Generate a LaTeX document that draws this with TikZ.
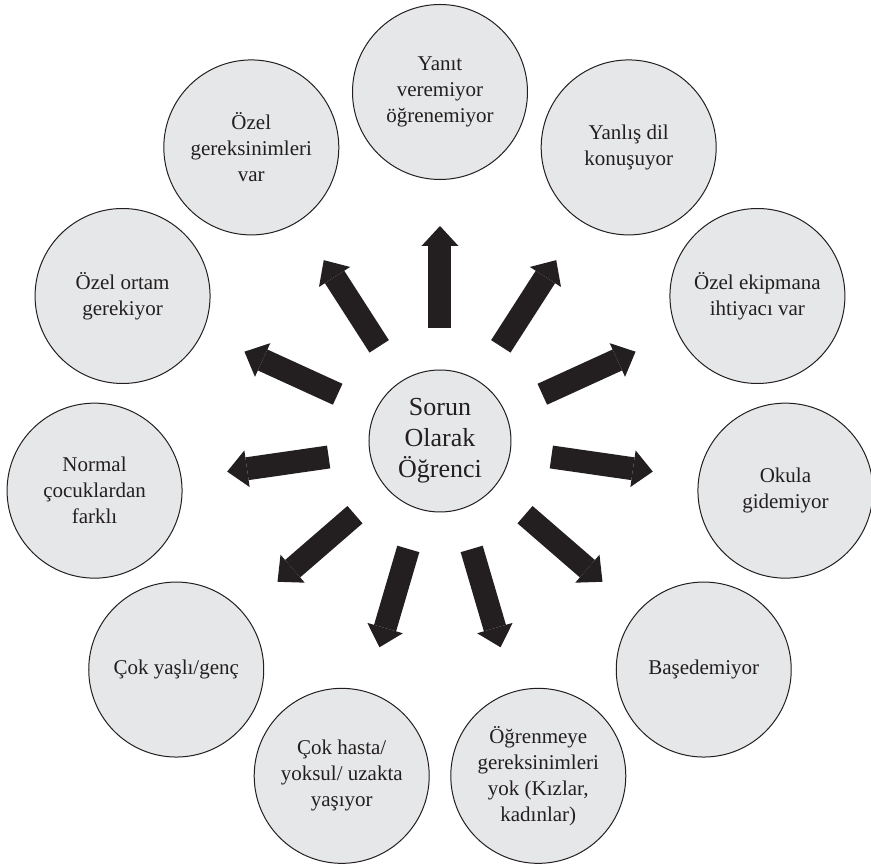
\documentclass[tikz,border=0pt]{standalone}
\usepackage{fontspec}
\setmainfont{Liberation Serif}
\usepackage{tikz}
\usetikzlibrary{arrows.meta}
\definecolor{bubble}{HTML}{E6E7E8}
\definecolor{ink}{HTML}{231F20}

\begin{document}
\begin{tikzpicture}[x=1pt,y=1pt,
    reason/.style={circle,draw=ink,line width=1pt,fill=bubble,minimum size=175pt,
      inner sep=0pt,align=center,text=ink,font=\fontsize{21}{26}\selectfont},
    core/.style={circle,draw=ink,line width=1pt,fill=bubble,minimum size=142pt,
      inner sep=0pt,align=center,text=ink,font=\fontsize{26}{31}\selectfont},
    push/.style={draw=ink,line width=23pt,
      -{Triangle[width=37pt,length=20pt,line width=0pt]},
      shorten <=41pt,shorten >=46pt}]
      \useasboundingbox (-440,-423) rectangle (431,441);
      \node [core] (st) at (0,0) {Sorun\\Olarak\\Öğrenci};
      \node [reason] (s0) at (90:349pt) {Yanıt\\veremiyor\\öğrenemiyor};
      \node [reason] (s1) at (57.27:349pt) {Yanlış dil\\konuşuyor};
      \node [reason] (s2) at (24.55:349pt) {Özel ekipmana\\ihtiyacı var};
      \node [reason] (s3) at (-8.18:349pt) {Okula\\gidemiyor};
      \node [reason] (s4) at (-40.91:349pt) {Başedemiyor};
      \node [reason] (s5) at (-73.64:349pt) {Öğrenmeye\\gereksinimleri\\yok (Kızlar,\\kadınlar)};
      \node [reason] (s6) at (-106.36:349pt) {Çok hasta/\\yoksul/ uzakta\\yaşıyor};
      \node [reason] (s7) at (-139.09:349pt) {Çok yaşlı/genç};
      \node [reason] (s8) at (-171.82:349pt) {Normal\\çocuklardan\\farklı};
      \node [reason] (s9) at (155.45:349pt) {Özel ortam\\gerekiyor};
      \node [reason] (s10) at (122.73:349pt) {Özel\\gereksinimleri\\var};
      \path
      (st) edge [push] (s0)
      (st) edge [push] (s1)
      (st) edge [push] (s2)
      (st) edge [push] (s3)
      (st) edge [push] (s4)
      (st) edge [push] (s5)
      (st) edge [push] (s6)
      (st) edge [push] (s7)
      (st) edge [push] (s8)
      (st) edge [push] (s9)
      (st) edge [push] (s10)
      ;
\end{tikzpicture}
\end{document}
